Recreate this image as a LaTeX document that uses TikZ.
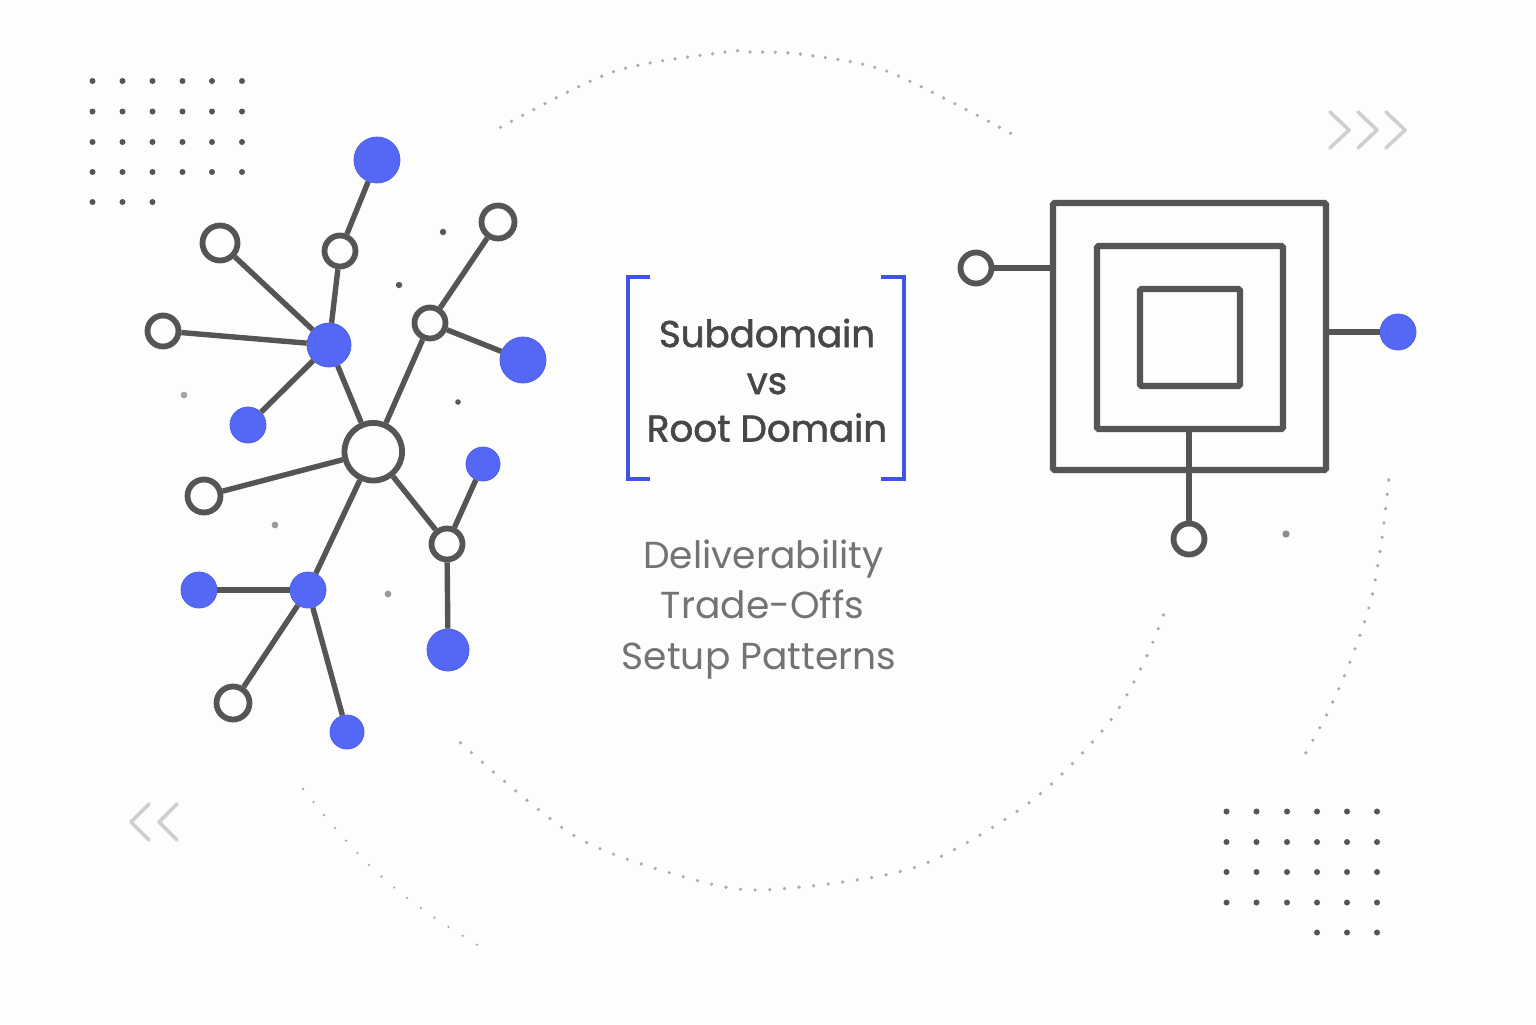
\documentclass[tikz,border=0pt]{standalone}
\usepackage{fontspec}
\setmainfont{Poppins}
\newfontfamily\titlefont[FakeBold=1.6]{Poppins}
\definecolor{paper}{HTML}{FDFDFB}
\definecolor{ink}{HTML}{555555}
\definecolor{nodeblue}{HTML}{5468F5}
\definecolor{rimblue}{HTML}{4A5EE8}
\definecolor{bracketblue}{HTML}{3F55E2}
\definecolor{trail}{HTML}{ABABAB}
\definecolor{chevron}{HTML}{CFCFCF}
\tikzset{
    hollow/.style={circle,draw=ink,fill=paper,line width=2.9pt,inner sep=0pt},
    solid/.style={circle,draw=rimblue,fill=nodeblue,line width=0.4pt,inner sep=0pt},
    link/.style={draw=ink,line width=2.7pt},
    frame/.style={rectangle,draw=ink,line width=3.2pt,inner sep=0pt,rounded corners=0.8pt},
    griddot/.style={fill=ink},
    trailline/.style={draw=trail,line width=1.8pt,line cap=round},
    chevronline/.style={draw=chevron,line width=1.8pt,line cap=round,line join=round},
    bracket/.style={draw=bracketblue,line width=2pt},
    title/.style={anchor=base,text=black!72,font=\titlefont\fontsize{18.6}{20}\selectfont,inner sep=0pt},
    subtitle/.style={anchor=base,text=black!55,font=\fontsize{18.8}{20}\selectfont,inner sep=0pt}
}
\begin{document}
\begin{tikzpicture}
    \begin{scope}[x=0.5pt,y=-0.5pt]
        % background
        \fill[paper] (0,0) rectangle (1536,1024);

        % dotted trails
        \draw[trailline,dash pattern=on 0pt off 6.3pt] plot[smooth] coordinates {(500.5,127.3) (613.5,71.7) (726,52) (751,52) (801.5,54.3) (889,72) (1012,134)};
        \draw[trailline,dash pattern=on 0pt off 7.33pt] plot[smooth] coordinates {(460.5,742.7) (578,838) (707,883) (779,889) (916,867) (1030,802) (1107,725) (1145,660) (1168,602.7)};
        \draw[trailline,dash pattern=on 0pt off 7.2pt] plot[smooth] coordinates {(1388.7,480) (1382,538) (1372,596) (1359,638) (1343,679) (1325,718) (1304,756)};
        \draw[trailline,line width=1.3pt,dash pattern=on 0pt off 8.4pt] plot[smooth] coordinates {(303,789) (334,827) (367,863) (402,894) (441,922) (481,947)};

        % chevrons
        \draw[chevronline] (1330,112) -- (1349,130) -- (1330,148);
        \draw[chevronline] (1358,112) -- (1377,130) -- (1358,148);
        \draw[chevronline] (1386,112) -- (1405,130) -- (1386,148);
        \draw[chevronline] (149,804) -- (131,822) -- (149,840);
        \draw[chevronline] (177,804) -- (159,822) -- (177,840);

        % dot grid, top left
        \fill[griddot] (92.5,81) circle[radius=3] (122.5,81) circle[radius=3] (152.5,81) circle[radius=3] (182.5,81) circle[radius=3] (212,81) circle[radius=3] (242,81) circle[radius=3];
        \fill[griddot] (92.5,111.5) circle[radius=3] (122.5,111.5) circle[radius=3] (152.5,111.5) circle[radius=3] (182.5,111.5) circle[radius=3] (212,111.5) circle[radius=3] (242,111.5) circle[radius=3];
        \fill[griddot] (92.5,142) circle[radius=3] (122.5,142) circle[radius=3] (152.5,142) circle[radius=3] (182.5,142) circle[radius=3] (212,142) circle[radius=3] (242,142) circle[radius=3];
        \fill[griddot] (92.5,172) circle[radius=3] (122.5,172) circle[radius=3] (152.5,172) circle[radius=3] (182.5,172) circle[radius=3] (212,172) circle[radius=3] (242,172) circle[radius=3];
        \fill[griddot] (92.5,202) circle[radius=3] (122.5,202) circle[radius=3] (152.5,202) circle[radius=3];

        % dot grid, bottom right
        \fill[griddot] (1226.5,811.5) circle[radius=3] (1256.5,811.5) circle[radius=3] (1287,811.5) circle[radius=3] (1317,811.5) circle[radius=3] (1347,811.5) circle[radius=3] (1377,811.5) circle[radius=3];
        \fill[griddot] (1226.5,842) circle[radius=3] (1256.5,842) circle[radius=3] (1287,842) circle[radius=3] (1317,842) circle[radius=3] (1347,842) circle[radius=3] (1377,842) circle[radius=3];
        \fill[griddot] (1226.5,872) circle[radius=3] (1256.5,872) circle[radius=3] (1287,872) circle[radius=3] (1317,872) circle[radius=3] (1347,872) circle[radius=3] (1377,872) circle[radius=3];
        \fill[griddot] (1226.5,902.5) circle[radius=3] (1256.5,902.5) circle[radius=3] (1287,902.5) circle[radius=3] (1317,902.5) circle[radius=3] (1347,902.5) circle[radius=3] (1377,902.5) circle[radius=3];
        \fill[griddot] (1317,932.5) circle[radius=3] (1347,932.5) circle[radius=3] (1377,932.5) circle[radius=3];

        % loose specks
        \fill[black!65] (443,232) circle[radius=3.2];
        \fill[black!65] (399,285) circle[radius=3.2];
        \fill[black!65] (458,402) circle[radius=2.8];
        \fill[black!35] (184,395) circle[radius=3.4];
        \fill[black!40] (275,525) circle[radius=3.4];
        \fill[black!40] (388,594) circle[radius=3.4];
        \fill[black!45] (1286,534) circle[radius=3.6];

        % tree nodes
        \node[hollow,minimum size=28.8pt] (hub) at (373.3,451.7) {};
        \node[solid,minimum size=23pt] (crown) at (377,160) {};
        \node[hollow,minimum size=15.5pt] (neck) at (340,251) {};
        \node[hollow,minimum size=17.5pt] (farleft) at (220,243) {};
        \node[hollow,minimum size=15.5pt] (westtip) at (163,331) {};
        \node[solid,minimum size=22pt] (upperhub) at (329,345) {};
        \node[solid,minimum size=18pt] (lowleaf) at (248,425) {};
        \node[hollow,minimum size=16.5pt] (easttip) at (498,222) {};
        \node[hollow,minimum size=15.5pt] (fork) at (430,323) {};
        \node[solid,minimum size=23pt] (bigleaf) at (523,360) {};
        \node[solid,minimum size=17pt] (sideleaf) at (483,464) {};
        \node[hollow,minimum size=15.5pt] (lowerfork) at (447,544) {};
        \node[solid,minimum size=21pt] (dropleaf) at (448,650) {};
        \node[hollow,minimum size=16.5pt] (westring) at (204,496) {};
        \node[solid,minimum size=18pt] (lowerhub) at (308,590) {};
        \node[solid,minimum size=18pt] (westleaf) at (199,590) {};
        \node[hollow,minimum size=16.5pt] (southring) at (233,703) {};
        \node[solid,minimum size=17pt] (southleaf) at (347,732) {};

        % tree links
        \draw[link] (crown) -- (neck);
        \draw[link] (neck) -- (upperhub);
        \draw[link] (farleft) -- (upperhub);
        \draw[link] (westtip) -- (upperhub);
        \draw[link] (lowleaf) -- (upperhub);
        \draw[link] (upperhub) -- (hub);
        \draw[link] (hub) -- (fork);
        \draw[link] (fork) -- (easttip);
        \draw[link] (fork) -- (bigleaf);
        \draw[link] (hub) -- (westring);
        \draw[link] (hub) -- (lowerhub);
        \draw[link] (lowerhub) -- (westleaf);
        \draw[link] (lowerhub) -- (southring);
        \draw[link] (lowerhub) -- (southleaf);
        \draw[link] (hub) -- (lowerfork);
        \draw[link] (lowerfork) -- (sideleaf);
        \draw[link] (lowerfork) -- (dropleaf);

        % brackets
        \draw[bracket] (650,277) -- (628,277) -- (628,479) -- (650,479);
        \draw[bracket] (881,277) -- (904,277) -- (904,479) -- (881,479);

        % title
        \node[title] (line1) at (767,347) {Subdomain};
        \node[title] (line2) at (767,394) {vs};
        \node[title] (line3) at (767,441.5) {Root Domain};

        % subtitle
        \node[subtitle] (sub1) at (763.5,568) {Deliverability};
        \node[subtitle] (sub2) at (762.5,618) {Trade-Offs};
        \node[subtitle] (sub3) at (759,669) {Setup Patterns};

        % nested squares
        \node[frame,minimum width=136.5pt,minimum height=133.5pt] (outer) at (1189.5,336.5) {};
        \node[frame,minimum width=93pt,minimum height=91.5pt] (middle) at (1190,337.5) {};
        \node[frame,minimum width=50pt,minimum height=48.5pt] (inner) at (1190,337.5) {};

        % ports
        \node[hollow,minimum size=15.5pt] (portwest) at (976,268) {};
        \node[solid,minimum size=18pt] (porteast) at (1398,332) {};
        \node[hollow,minimum size=15.5pt] (portsouth) at (1189,539) {};
        \draw[link] (portwest) -- (outer.west |- portwest);
        \draw[link] (outer.east |- porteast) -- (porteast);
        \draw[link] (middle.south -| portsouth) -- (portsouth);
    \end{scope}
\end{tikzpicture}
\end{document}
